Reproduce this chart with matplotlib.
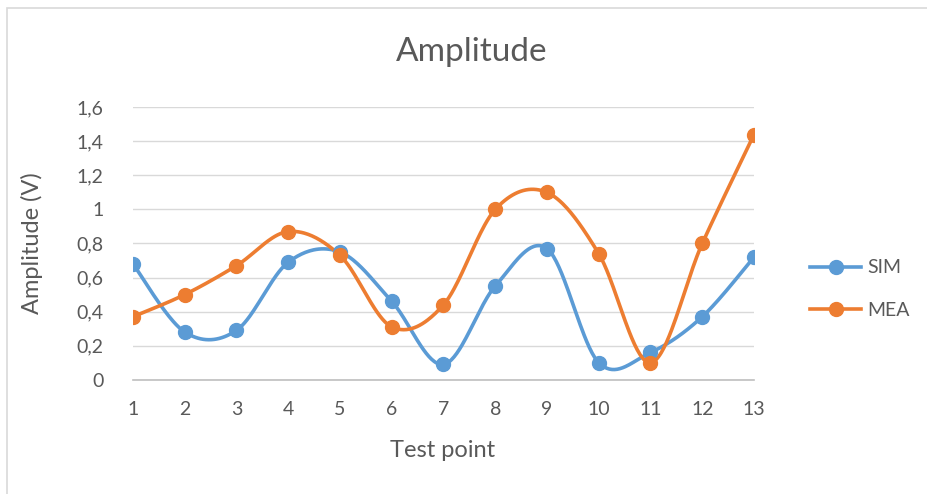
import numpy as np
import matplotlib
matplotlib.use("Agg")
import matplotlib.pyplot as plt
from matplotlib.patches import Rectangle
from matplotlib.lines import Line2D

plt.rcParams['font.family'] = ['Lato', 'DejaVu Sans']

test_points = [1, 2, 3, 4, 5, 6, 7, 8, 9, 10, 11, 12, 13]
sim = [0.68, 0.28, 0.29, 0.69, 0.75, 0.46, 0.09, 0.55, 0.77, 0.10, 0.16, 0.37, 0.72]
mea = [0.37, 0.50, 0.67, 0.87, 0.73, 0.31, 0.44, 1.00, 1.10, 0.74, 0.10, 0.80, 1.44]
yticks = [0, 0.2, 0.4, 0.6, 0.8, 1.0, 1.2, 1.4, 1.6]
ytick_labels = ["0", "0,2", "0,4", "0,6", "0,8", "1", "1,2", "1,4", "1,6"]
series_names = ["SIM", "MEA"]
colors = ["#5B9BD5", "#ED7D31"]
text_color = "#595959"


def smooth(x, y, n=40):
    """Excel-like smoothed line (Catmull-Rom Bezier) through the data points."""
    x = np.asarray(x, float)
    y = np.asarray(y, float)
    P = np.column_stack([x, y])
    out = []
    for i in range(len(P) - 1):
        p0 = P[i - 1] if i > 0 else P[i]
        p1 = P[i]
        p2 = P[i + 1]
        p3 = P[i + 2] if i + 2 < len(P) else P[i + 1]
        c1 = p1 + (p2 - p0) / 6.0
        c2 = p2 - (p3 - p1) / 6.0
        t = np.linspace(0, 1, n)[:, None]
        seg = ((1 - t) ** 3) * p1 + 3 * ((1 - t) ** 2) * t * c1 + 3 * (1 - t) * t ** 2 * c2 + t ** 3 * p2
        out.append(seg if i == 0 else seg[1:])
    s = np.vstack(out)
    return s[:, 0], s[:, 1]


fig = plt.figure(figsize=(9.28, 4.94), dpi=100)
ax = fig.add_axes([133 / 928, 1 - 379.7 / 494, (754 - 133) / 928, (379.7 - 107.3) / 494])

for data, name, c in zip([sim, mea], series_names, colors):
    sx, sy = smooth(test_points, data)
    ax.plot(sx, sy, color=c, lw=2.6, solid_capstyle='round', zorder=3)
    ax.plot(test_points, data, 'o', color=c, ms=10, zorder=4)

ax.set_xlim(1, 13)
ax.set_ylim(0, 1.6)
ax.set_yticks(yticks)
ax.set_yticklabels(ytick_labels)
ax.set_xticks(test_points)
ax.set_xticklabels([str(t) for t in test_points])
ax.grid(axis='y', color='#D9D9D9', lw=1.0)
ax.set_axisbelow(True)
for s in ['top', 'right', 'left']:
    ax.spines[s].set_visible(False)
ax.spines['bottom'].set_color('#BFBFBF')
ax.spines['bottom'].set_linewidth(1.2)
ax.tick_params(axis='both', length=0, labelsize=14, colors=text_color)
ax.tick_params(axis='y', pad=21)
ax.tick_params(axis='x', pad=15)

fig.text(443 / 928, 1 - 450 / 494, "Test point", ha='center', va='center', fontsize=17, color=text_color)
fig.text(32 / 928, 1 - 243 / 494, "Amplitude (V)", ha='center', va='center', rotation=90,
         fontsize=17, color=text_color)
fig.text(472 / 928, 1 - 52 / 494, "Amplitude", ha='center', va='center', fontsize=24, color=text_color)

handles = [Line2D([0], [0], color=c, lw=2.6, marker='o', ms=10) for c in colors]
fig.legend(handles, series_names, loc='center left', bbox_to_anchor=(793 / 928, 1 - 289 / 494),
           frameon=False, fontsize=14, labelcolor=text_color, handlelength=2.6,
           labelspacing=1.3, handletextpad=0.3)

fig.add_artist(Rectangle((7 / 928, -0.1), 1.2, 1.1 - 8.5 / 494,
                         transform=fig.transFigure, fill=False, ec='#D9D9D9', lw=1.2))

fig.savefig("out.png", dpi=100, facecolor='white')
